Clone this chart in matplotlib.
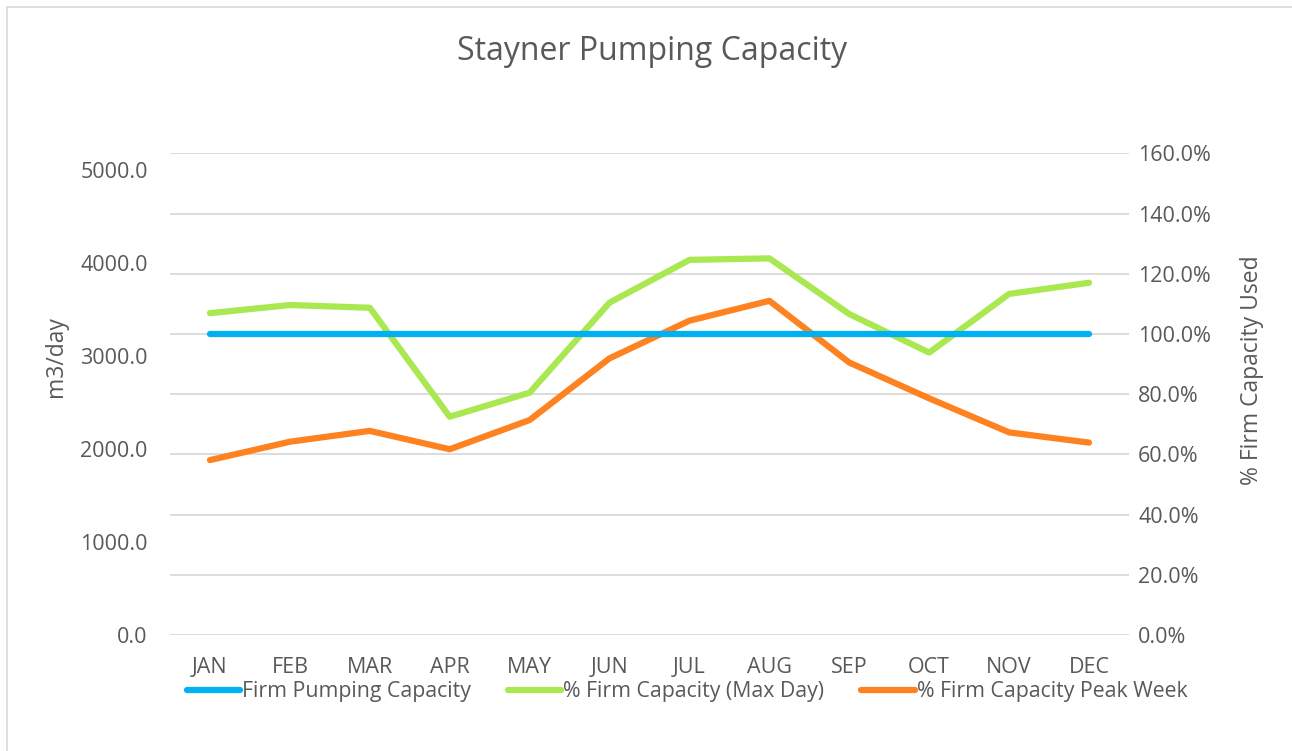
import matplotlib
matplotlib.use("Agg")
import matplotlib.pyplot as plt
from matplotlib.patches import Rectangle
from matplotlib.ticker import FuncFormatter, MultipleLocator

plt.rcParams.update({
    "font.family": ["Open Sans", "DejaVu Sans"],
    "text.color": "#595959",
    "axes.labelcolor": "#595959",
    "xtick.color": "#595959",
    "ytick.color": "#595959",
})

months = ["JAN", "FEB", "MAR", "APR", "MAY", "JUN",
          "JUL", "AUG", "SEP", "OCT", "NOV", "DEC"]
firm_capacity = 3240.0  # m3/day
firm_pumping = [firm_capacity] * 12
pct_max_day = [106.9, 109.6, 108.7, 72.5, 80.5, 110.4,
               124.6, 125.1, 106.6, 93.8, 113.3, 117.0]
pct_peak_week = [58.1, 64.2, 67.8, 61.7, 71.4, 91.9,
                 104.4, 111.0, 90.5, 78.6, 67.3, 63.9]

BLUE = "#00b0f0"
GREEN = "#a9e850"
ORANGE = "#ff8221"

fig = plt.figure(figsize=(12.92, 7.51), dpi=100)
ax = fig.add_axes([170 / 1292, 1 - 635 / 751, (1129 - 170) / 1292, (635 - 153.3) / 751])
ax2 = ax.twinx()

x = list(range(len(months)))
l1, = ax.plot(x, firm_pumping, color=BLUE, lw=4.5, solid_capstyle="round", zorder=3)
l2, = ax2.plot(x, pct_max_day, color=GREEN, lw=4.5, solid_capstyle="round",
               solid_joinstyle="round", zorder=3)
l3, = ax2.plot(x, pct_peak_week, color=ORANGE, lw=4.5, solid_capstyle="round",
               solid_joinstyle="round", zorder=3)
ax.set_zorder(ax2.get_zorder() + 1)
ax.patch.set_visible(False)

# left axis scaled so firm capacity sits at 100 %
ax.set_ylim(0, firm_capacity * 1.6)
ax.yaxis.set_major_locator(MultipleLocator(1000))
ax.yaxis.set_major_formatter(FuncFormatter(lambda v, p: f"{v:.1f}"))
ax.set_xlim(-0.5, len(months) - 0.5)
ax.set_xticks(x)
ax.set_xticklabels(months)

ax2.set_ylim(0, 160)
ax2.yaxis.set_major_locator(MultipleLocator(20))
ax2.yaxis.set_major_formatter(FuncFormatter(lambda v, p: f"{v:.1f}%"))
ax2.grid(axis="y", color="#d9d9d9", lw=1.3)
ax2.set_axisbelow(True)

for a in (ax, ax2):
    for s in a.spines.values():
        s.set_visible(False)
    a.tick_params(length=0, labelsize=15.5)
ax.tick_params(axis="y", pad=16)
ax.tick_params(axis="x", pad=16)
ax2.tick_params(axis="y", pad=6.5)

ax.set_ylabel("m3/day", fontsize=16.5)
ax.yaxis.set_label_coords(-0.106, 0.577)
ax2.set_ylabel("% Firm Capacity Used", fontsize=16.5)
ax2.yaxis.set_label_coords(1.116, 0.55)

fig.text(0.505, 1 - 52 / 751, "Stayner Pumping Capacity", ha="center", va="center",
         fontsize=23)

fig.legend([l1, l2, l3],
           ["Firm Pumping Capacity", "% Firm Capacity (Max Day)", "% Firm Capacity Peak Week"],
           loc="center", bbox_to_anchor=(687 / 1292, 1 - 692 / 751), ncol=3, frameon=False,
           fontsize=15.3, handlelength=2.5, handletextpad=0.1, columnspacing=1.75,
           borderpad=0, borderaxespad=0)

fig.patches.append(Rectangle((7 / 1292, -0.05), 1.2, 1 - 7 / 751 + 0.05,
                             transform=fig.transFigure, fill=False,
                             ec="#d9d9d9", lw=1.2))

fig.savefig("out.png", dpi=100)
